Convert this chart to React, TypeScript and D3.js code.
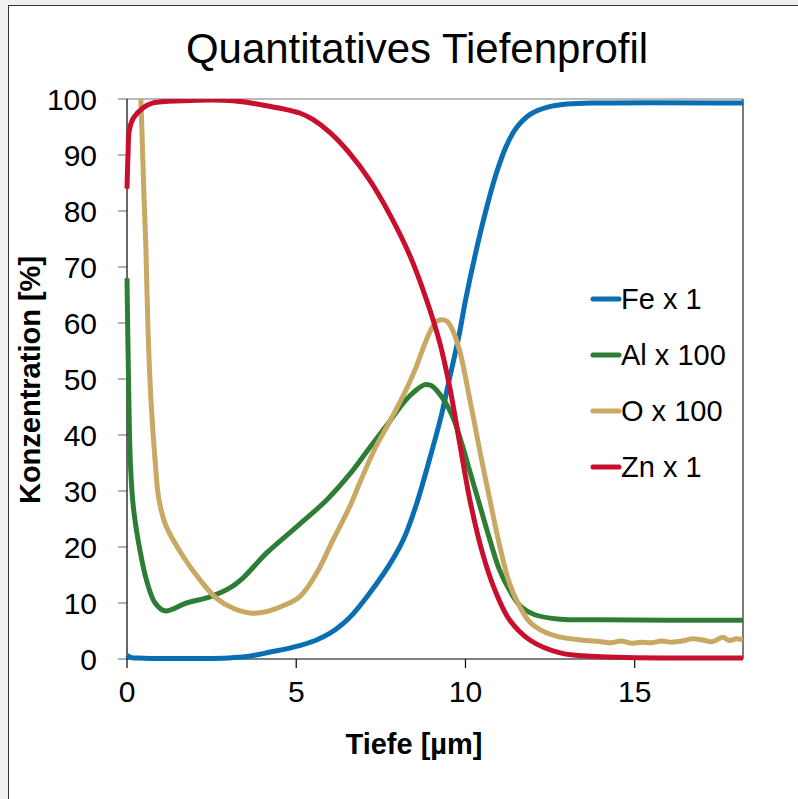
import React from "react";
import * as d3 from "d3";

type Pt = [number, number];

// Depth profile data: [depth in µm, concentration in %]
const fe: Pt[] = [
  [0, 0.7], [0.1, 0.3], [0.5, 0.15], [1, 0.1], [2, 0.1], [3, 0.2], [3.6, 0.5], [4.2, 1.2],
  [5.1, 2.4], [5.6, 3.4], [6.0, 4.6], [6.4, 6.4], [6.7, 8.2], [7.1, 11.2], [7.6, 15.4],
  [7.9, 18.3], [8.2, 21.8], [8.55, 27.6], [9.0, 37.0], [9.3, 43.8], [9.54, 50.4], [9.8, 57.5],
  [10.0, 64], [10.3, 72.5], [10.6, 80], [10.9, 86.5], [11.2, 91.5], [11.5, 94.8], [11.9, 97.2],
  [12.4, 98.5], [13, 99.1], [14, 99.3], [18.2, 99.3],
];

const al: Pt[] = [
  [0, 68], [0.05, 48], [0.1, 35], [0.19, 27], [0.38, 19.5], [0.58, 14], [0.83, 10], [1.12, 8.6],
  [1.76, 10], [2.45, 11.1], [3.04, 12.7], [3.43, 14.5], [4.12, 18.9], [5.01, 23.6], [5.9, 28.4],
  [6.58, 33], [7.2, 38], [7.77, 42.5], [8.2, 46], [8.5, 47.8], [8.8, 49], [9.0, 48.8],
  [9.24, 47.3], [9.5, 44.8], [9.68, 42.4], [9.9, 38.3], [10.13, 33.5], [10.42, 27.5],
  [10.72, 21.3], [11.0, 16], [11.3, 12.3], [11.6, 9.6], [12.05, 7.9], [12.8, 7.1], [14, 7.0],
  [18.2, 6.9],
];

const ox: Pt[] = [
  [0.25, 130], [0.33, 112], [0.41, 100], [0.5, 83], [0.56, 73], [0.62, 59], [0.71, 46],
  [0.83, 35.5], [0.94, 28.6], [1.15, 23.8], [1.66, 18.3], [2.16, 14.1], [2.65, 10.8],
  [3.14, 9.05], [3.63, 8.2], [4.12, 8.45], [4.61, 9.5], [5.1, 11.1], [5.6, 15.3], [6.09, 21.3],
  [6.58, 27.2], [6.88, 31.5], [7.32, 37.5], [7.77, 42.5], [8.2, 47.5], [8.5, 51.5], [8.8, 56.3],
  [9.0, 59], [9.15, 60.3], [9.3, 60.6], [9.45, 60.3], [9.6, 59], [9.83, 55], [10.13, 46.3],
  [10.42, 37.3], [10.77, 27], [11.0, 20.5], [11.3, 13.5], [11.6, 9.4], [11.9, 6.6], [12.34, 4.8],
  [12.8, 3.9], [13.4, 3.4], [14.0, 3.1], [14.3, 2.9], [14.6, 3.2], [14.9, 2.8], [15.2, 3.0],
  [15.5, 2.9], [15.8, 3.2], [16.1, 3.0], [16.4, 3.2], [16.7, 3.6], [17.0, 3.4], [17.3, 3.1],
  [17.6, 3.9], [17.8, 3.3], [18.0, 3.6], [18.2, 3.4],
];

const zn: Pt[] = [
  [0, 84], [0.03, 90], [0.07, 94.5], [0.19, 96.6], [0.47, 98.4], [0.77, 99.3], [1.65, 99.7],
  [3.13, 99.7], [3.84, 99.1], [5.1, 97.5], [5.5, 96.3], [6.0, 94.0], [6.58, 90.3], [7.17, 85.5],
  [7.77, 79.3], [8.36, 72], [8.8, 65], [9.24, 56.5], [9.54, 48.4], [9.85, 37.8], [10.13, 28.4],
  [10.5, 19], [10.87, 12.3], [11.3, 7], [11.9, 3.4], [12.8, 1.1], [14, 0.4], [18.2, 0.2],
];

const seriesNames = ["Fe x 1", "Al x 100", "O x 100", "Zn x 1"];
const seriesData = [fe, al, ox, zn];
const seriesColors = ["#0A6EB2", "#2E7D35", "#C8A862", "#C8102E"];

const xTicks = [0, 5, 10, 15];
const yTicks = [0, 10, 20, 30, 40, 50, 60, 70, 80, 90, 100];

const title = "Quantitatives Tiefenprofil";
const xTitle = "Tiefe [µm]";
const yTitle = "Konzentration [%]";

const W = 798;
const H = 799;
const left = 127;
const right = 743;
const top = 99;
const bottom = 659;
const font = "'Liberation Sans', Arial, sans-serif";

export default function App() {
  const x = d3.scaleLinear().domain([0, 18.2]).range([left, right]);
  const y = d3.scaleLinear().domain([0, 100]).range([bottom, top]);
  const line = d3
    .line<Pt>()
    .x((d) => x(d[0]))
    .y((d) => y(d[1]))
    .curve(d3.curveCatmullRom.alpha(0.5));

  return (
    <div style={{ position: "absolute", left: 0, top: 0, width: W, height: H }}>
      <svg width={W} height={H} style={{ display: "block" }} fontFamily={font}>
        <defs>
          <clipPath id="plotClip">
            <rect x={left - 4} y={top} width={right - left + 4} height={bottom - top + 6} />
          </clipPath>
        </defs>
        <rect x={0} y={0} width={W} height={H} fill="#F0F0F0" />
        <rect x={8.5} y={5.5} width={W} height={H} fill="#FFFFFF" stroke="#333" strokeWidth={1} />

        <text x={417} y={63} textAnchor="middle" fontSize={42} fill="#000">
          {title}
        </text>

        {/* plot frame */}
        <line x1={left} x2={right} y1={top} y2={top} stroke="#777" strokeWidth={1.2} />
        <line x1={right} x2={right} y1={top} y2={bottom} stroke="#222" strokeWidth={1.2} />

        {/* y axis */}
        {yTicks.map((t) => (
          <g key={"y" + t}>
            <line x1={left - 9} x2={left} y1={y(t)} y2={y(t)} stroke="#808080" strokeWidth={1.2} />
            <text x={97} y={y(t)} dy="0.35em" textAnchor="end" fontSize={30} fill="#000">
              {t}
            </text>
          </g>
        ))}
        <line x1={left} x2={left} y1={top} y2={bottom} stroke="#000" strokeWidth={1.2} />

        {/* x axis */}
        {xTicks.map((t) => (
          <g key={"x" + t}>
            <line x1={x(t)} x2={x(t)} y1={bottom} y2={bottom + 9} stroke="#000" strokeWidth={1.2} />
            <text x={x(t)} y={702} textAnchor="middle" fontSize={30} fill="#000">
              {t}
            </text>
          </g>
        ))}
        <line x1={left} x2={right} y1={bottom} y2={bottom} stroke="#000" strokeWidth={1.2} />

        <text x={414} y={754} textAnchor="middle" fontSize={29} fontWeight="bold" fill="#000">
          {xTitle}
        </text>
        <text
          transform={`translate(40, 380) rotate(-90)`}
          textAnchor="middle"
          fontSize={29}
          fontWeight="bold"
          fill="#000"
        >
          {yTitle}
        </text>

        {/* series */}
        <g clipPath="url(#plotClip)">
          {seriesData.map((d, i) => (
            <path
              key={seriesNames[i]}
              d={line(d) ?? ""}
              fill="none"
              stroke={seriesColors[i]}
              strokeWidth={5}
              strokeLinejoin="round"
            />
          ))}
        </g>

        {/* legend */}
        {seriesNames.map((n, i) => {
          const ly = 299 + i * 56;
          return (
            <g key={"lg" + n}>
              <line x1={593} x2={619} y1={ly} y2={ly} stroke={seriesColors[i]} strokeWidth={5} strokeLinecap="round" />
              <text x={621} y={ly} dy="0.35em" fontSize={29} fill="#000">
                {n}
              </text>
            </g>
          );
        })}
      </svg>
    </div>
  );
}
